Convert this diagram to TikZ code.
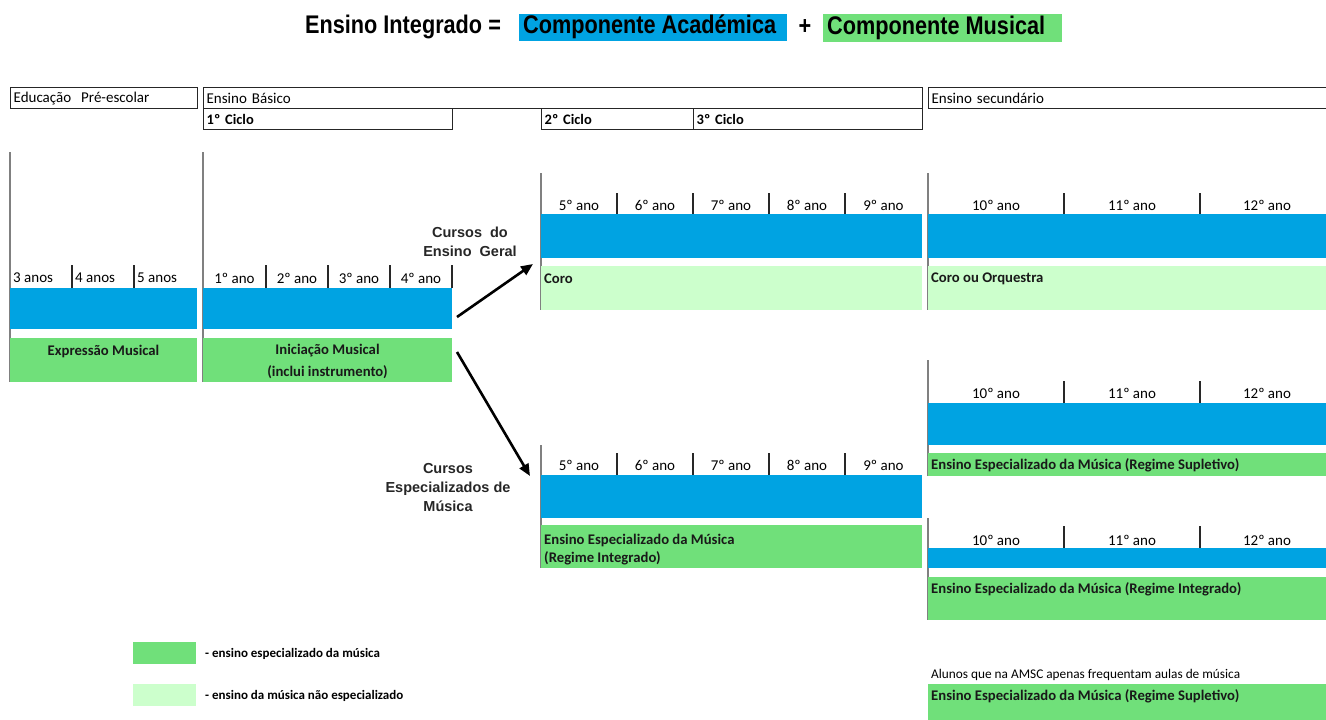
\documentclass[tikz,border=0pt]{standalone}
\usepackage{fontspec}
\setmainfont{Carlito}
\newfontfamily\ttlfont[FakeStretch=0.85]{Liberation Sans}
\newfontfamily\arfont{Liberation Sans}
\usetikzlibrary{arrows.meta}
\definecolor{acad}{RGB}{0,163,226}
\definecolor{mus}{RGB}{112,224,122}
\definecolor{musl}{RGB}{204,255,204}
\definecolor{vgrey}{RGB}{128,128,128}
\definecolor{tk}{RGB}{40,40,40}
\begin{document}
\begin{tikzpicture}[x=1pt,y=-1pt,
  bar/.style={inner sep=0pt, outer sep=0pt, anchor=north west, draw=none},
  hdrbox/.style={draw=black!85, line width=1.3pt, anchor=north west, minimum height=21pt, inner xsep=3pt, inner ysep=0pt, align=left, font=\fontsize{15}{17}\selectfont},
  yr/.style={font=\fontsize{15}{17}\selectfont, inner sep=0pt},
  btxt/.style={font=\fontsize{14.7}{16}\selectfont\bfseries, inner sep=0pt, text=black!90},
  lgt/.style={font=\fontsize{13}{15}\selectfont\bfseries, inner sep=0pt, anchor=west},
  ttl/.style={inner sep=0pt, font=\ttlfont\fontsize{25.5}{27}\selectfont\bfseries},
  vl/.style={draw=vgrey, line width=2pt},
  tick/.style={draw=tk, line width=1.6pt},
  crs/.style={font=\arfont\fontsize{14.5}{19}\selectfont\bfseries, align=center, inner sep=0pt, text=black!85},
  arr/.style={line width=2.6pt, -{Triangle[length=12pt,width=10pt]}}
]
\useasboundingbox (0,0) rectangle (1326,720);

% ---------- title ----------
\node[ttl, anchor=west] (t1) at (305,27) {Ensino Integrado =};
\node[bar, fill=acad, minimum width=268pt, minimum height=27pt] (t2) at (519,14) {};
\node[ttl, anchor=west] (t2t) at (523,27) {Componente Académica};
\node[ttl] (t3) at (805,27) {+};
\node[bar, fill=mus, minimum width=239pt, minimum height=28pt] (t4) at (823,14) {};
\node[ttl, anchor=west] (t4t) at (827,28) {Componente Musical};

% ---------- header boxes ----------
\node[hdrbox, minimum width=187pt, text width=181pt] (hpre) at (10,87) {Educação~ Pré-escolar};
\node[hdrbox, minimum width=719pt, text width=713pt] (hbas) at (203,87) {Ensino Básico};
\node[hdrbox, minimum width=249pt, text width=243pt, font=\fontsize{14.5}{16}\selectfont\bfseries] (hc1) at (203,108) {1º Ciclo};
\node[hdrbox, minimum width=152pt, text width=146pt, font=\fontsize{14.5}{16}\selectfont\bfseries] (hc2) at (541,108) {2º Ciclo};
\node[hdrbox, minimum width=229pt, text width=223pt, font=\fontsize{14.5}{16}\selectfont\bfseries] (hc3) at (693,108) {3º Ciclo};
\node[hdrbox, minimum width=400pt, text width=394pt] (hsec) at (928,87) {Ensino secundário};

% ---------- pre-escolar ----------
\draw[vl] (10,152) -- (10,382);
\draw[tick] (72,265) -- (72,288);
\draw[tick] (134,265) -- (134,288);
\node[yr, anchor=west] (p3) at (13,278) {3 anos};
\node[yr, anchor=west] (p4) at (75,278) {4 anos};
\node[yr, anchor=west] (p5) at (137,278) {5 anos};
\node[bar, fill=acad, minimum width=187pt, minimum height=41pt] (pblue) at (10,288) {};
\node[bar, fill=mus, minimum width=187pt, minimum height=44pt] (pgreen) at (10,338) {};
\node[btxt] (ptxt) at (103.5,351) {Expressão Musical};

% ---------- 1o ciclo ----------
\draw[vl] (203,152) -- (203,382);
\foreach \x in {266,328,390,452} \draw[tick] (\x,265) -- (\x,288);
\node[yr] (c1a) at (234.5,278) {1º ano};
\node[yr] (c1b) at (297,278) {2º ano};
\node[yr] (c1c) at (359,278) {3º ano};
\node[yr] (c1d) at (421,278) {4º ano};
\node[bar, fill=acad, minimum width=249pt, minimum height=41pt] (cblue) at (203,288) {};
\node[bar, fill=mus, minimum width=249pt, minimum height=44pt] (cgreen) at (203,338) {};
\node[btxt] (ctxt1) at (327.5,351) {Iniciação Musical};
\node[btxt] (ctxt2) at (327.5,372) {(inclui instrumento)};

% ---------- arrows and course labels ----------
\coordinate (a1s) at (457,317);
\coordinate (a1e) at (533,264);
\coordinate (a2s) at (457,352);
\coordinate (a2e) at (530,476);
\draw[arr] (a1s) -- (a1e);
\draw[arr] (a2s) -- (a2e);
\node[crs] (cg) at (470,242) {Cursos~ do\\Ensino~ Geral};
\node[crs] (ce) at (448,488) {Cursos\\Especializados de\\Música};

% ---------- 2o/3o ciclo general ----------
\draw[vl] (541,173) -- (541,310);
\foreach \x in {617,693,769,845} \draw[tick] (\x,193) -- (\x,214);
\node[yr] (ga5) at (579,205) {5º ano};
\node[yr] (ga6) at (655,205) {6º ano};
\node[yr] (ga7) at (731,205) {7º ano};
\node[yr] (ga8) at (807,205) {8º ano};
\node[yr] (ga9) at (883.5,205) {9º ano};
\node[bar, fill=acad, minimum width=381pt, minimum height=44pt] (gblue) at (541,214) {};
\node[bar, fill=musl, minimum width=381pt, minimum height=44pt] (ggreen) at (541,266) {};
\node[btxt, anchor=west] (gtxt) at (544,279) {Coro};

% ---------- secondary general ----------
\draw[vl] (928,173) -- (928,310);
\foreach \x in {1064,1200} \draw[tick] (\x,193) -- (\x,214);
\node[yr] (s10) at (996,205) {10º ano};
\node[yr] (s11) at (1132,205) {11º ano};
\node[yr] (s12) at (1267,205) {12º ano};
\node[bar, fill=acad, minimum width=398pt, minimum height=44pt] (sblue) at (928,214) {};
\node[bar, fill=musl, minimum width=398pt, minimum height=44pt] (sgreen) at (928,266) {};
\node[btxt, anchor=west] (stxt) at (931,279) {Coro ou Orquestra};

% ---------- 2o/3o ciclo specialised ----------
\draw[vl] (541,445) -- (541,568);
\foreach \x in {617,693,769,845} \draw[tick] (\x,453) -- (\x,475);
\node[yr] (ea5) at (579,465) {5º ano};
\node[yr] (ea6) at (655,465) {6º ano};
\node[yr] (ea7) at (731,465) {7º ano};
\node[yr] (ea8) at (807,465) {8º ano};
\node[yr] (ea9) at (883.5,465) {9º ano};
\node[bar, fill=acad, minimum width=381pt, minimum height=43pt] (eblue) at (541,475) {};
\node[bar, fill=mus, minimum width=381pt, minimum height=43pt] (egreen) at (541,525) {};
\node[btxt, anchor=west] (etxt1) at (544,540) {Ensino Especializado da Música};
\node[btxt, anchor=west] (etxt2) at (544,558) {(Regime Integrado)};

% ---------- secondary supletivo ----------
\draw[vl] (928,360) -- (928,476);
\foreach \x in {1064,1200} \draw[tick] (\x,381) -- (\x,403);
\node[yr] (u10) at (996,393) {10º ano};
\node[yr] (u11) at (1132,393) {11º ano};
\node[yr] (u12) at (1267,393) {12º ano};
\node[bar, fill=acad, minimum width=398pt, minimum height=42pt] (ublue) at (928,403) {};
\node[bar, fill=mus, minimum width=398pt, minimum height=23pt] (ugreen) at (928,453) {};
\node[btxt, anchor=west] (utxt) at (931,465) {Ensino Especializado da Música (Regime Supletivo)};

% ---------- secondary integrado ----------
\draw[vl] (928,518) -- (928,620);
\foreach \x in {1064,1200} \draw[tick] (\x,526) -- (\x,548);
\node[yr] (i10) at (996,540) {10º ano};
\node[yr] (i11) at (1132,540) {11º ano};
\node[yr] (i12) at (1267,540) {12º ano};
\node[bar, fill=acad, minimum width=398pt, minimum height=20pt] (iblue) at (928,548) {};
\node[bar, fill=mus, minimum width=398pt, minimum height=43pt] (igreen) at (928,577) {};
\node[btxt, anchor=west] (itxt) at (931,589) {Ensino Especializado da Música (Regime Integrado)};

% ---------- music only ----------
\node[yr, anchor=west, font=\fontsize{13.3}{15}\selectfont] (mnote) at (931,675) {Alunos que na AMSC apenas frequentam aulas de música};
\node[bar, fill=mus, minimum width=398pt, minimum height=36pt] (mgreen) at (928,684) {};
\node[btxt, anchor=west] (mtxt) at (931,696) {Ensino Especializado da Música (Regime Supletivo)};

% ---------- legend ----------
\node[bar, fill=mus, minimum width=63pt, minimum height=22pt] (lg1) at (133,642) {};
\node[bar, fill=musl, minimum width=63pt, minimum height=22pt] (lg2) at (133,684) {};
\node[lgt] (lt1) at (205,654) {- ensino especializado da música};
\node[lgt] (lt2) at (205,696) {- ensino da música não especializado};
\end{tikzpicture}
\end{document}
